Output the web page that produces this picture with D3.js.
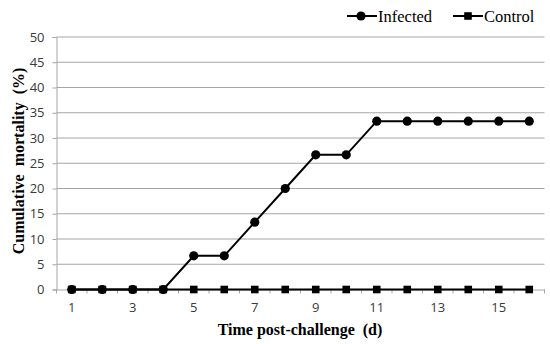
<!DOCTYPE html>
<html>
<head>
<meta charset="utf-8">
<script src="https://cdn.jsdelivr.net/npm/d3@7"></script>
<style>
  html, body { margin: 0; padding: 0; background: #fff; }
  svg { display: block; }
</style>
</head>
<body>
<svg id="chart" width="550" height="344"></svg>
<script>
// ---- data ----
const days = [1, 2, 3, 4, 5, 6, 7, 8, 9, 10, 11, 12, 13, 14, 15, 16];
const infected = [0, 0, 0, 0, 6.67, 6.67, 13.33, 20, 26.67, 26.67, 33.33, 33.33, 33.33, 33.33, 33.33, 33.33];
const control = [0, 0, 0, 0, 0, 0, 0, 0, 0, 0, 0, 0, 0, 0, 0, 0];
const xTickLabels = [1, 3, 5, 7, 9, 11, 13, 15];
const yTicks = [0, 5, 10, 15, 20, 25, 30, 35, 40, 45, 50];
const seriesNames = ["Infected", "Control"];
const xTitle = "Time post-challenge  (d)";
const yTitle = "Cumulative  mortality  (%)";

// ---- layout ----
const svg = d3.select("#chart");
const pLeft = 56.5, pRight = 544.5, pTop = 37, pBottom = 289.5;
const gridColor = "#a6a6a6";
const labelFont = "'Open Sans', 'Liberation Sans', sans-serif";
const titleFont = "'Liberation Serif', 'Times New Roman', serif";

const x = d3.scaleBand().domain(days).range([pLeft, pRight]).padding(0);
const bw = x.bandwidth();
const cx = d => x(d) + bw / 2;
const y = d3.scaleLinear().domain([0, 50]).range([pBottom, pTop]);

// gridlines
svg.append("g").selectAll("line").data(yTicks.filter(t => t > 0)).join("line")
  .attr("x1", pLeft).attr("x2", pRight)
  .attr("y1", d => y(d)).attr("y2", d => y(d))
  .attr("stroke", gridColor).attr("stroke-width", 1);

// y axis
const yAxis = svg.append("g").attr("transform", `translate(${pLeft},0)`)
  .call(d3.axisLeft(y).tickValues(yTicks).tickSize(4).tickPadding(8));
yAxis.select(".domain").attr("stroke", gridColor);
yAxis.selectAll(".tick line").attr("stroke", gridColor);
yAxis.selectAll(".tick text").attr("font-family", labelFont).attr("font-size", 13).attr("fill", "#3a3a3a");

// x axis
const xAxis = svg.append("g").attr("transform", `translate(0,${pBottom})`)
  .call(d3.axisBottom(x).tickSize(0).tickPadding(13)
    .tickFormat(d => xTickLabels.includes(d) ? d : ""));
xAxis.select(".domain").attr("stroke", gridColor);
xAxis.selectAll(".tick text").attr("font-family", labelFont).attr("font-size", 13).attr("fill", "#3a3a3a");
// tick marks at category boundaries
const bounds = days.map(d => x(d)).concat([x(days[days.length - 1]) + bw]);
svg.append("g").selectAll("line").data(bounds).join("line")
  .attr("x1", d => d).attr("x2", d => d)
  .attr("y1", pBottom).attr("y2", pBottom + 4)
  .attr("stroke", gridColor);

// lines
const line = d3.line().x((d, i) => cx(days[i])).y(d => y(d));
svg.append("path").datum(control).attr("d", line)
  .attr("fill", "none").attr("stroke", "#000").attr("stroke-width", 2);
svg.append("path").datum(infected).attr("d", line)
  .attr("fill", "none").attr("stroke", "#000").attr("stroke-width", 2);

// markers
svg.append("g").selectAll("rect").data(control).join("rect")
  .attr("x", (d, i) => cx(days[i]) - 3.8).attr("y", d => y(d) - 3.8)
  .attr("width", 7.6).attr("height", 7.6).attr("fill", "#000");
svg.append("g").selectAll("circle").data(infected).join("circle")
  .attr("cx", (d, i) => cx(days[i])).attr("cy", d => y(d))
  .attr("r", 4.6).attr("fill", "#000");

// axis titles
svg.append("text").attr("x", 300).attr("y", 335)
  .attr("text-anchor", "middle").attr("font-family", titleFont)
  .attr("font-weight", "bold").attr("font-size", 16)
  .style("white-space", "pre").text(xTitle);
svg.append("text").attr("transform", "translate(24,161) rotate(-90)")
  .attr("text-anchor", "middle").attr("font-family", titleFont)
  .attr("font-weight", "bold").attr("font-size", 16)
  .style("white-space", "pre").text(yTitle);

// legend
const legendItems = [
  { name: seriesNames[0], x0: 347, shape: "circle" },
  { name: seriesNames[1], x0: 453, shape: "square" }
];
const lg = svg.append("g");
legendItems.forEach(it => {
  const g = lg.append("g");
  g.append("line").attr("x1", it.x0).attr("x2", it.x0 + 30)
    .attr("y1", 16).attr("y2", 16).attr("stroke", "#000").attr("stroke-width", 2);
  if (it.shape === "circle") {
    g.append("circle").attr("cx", it.x0 + 14).attr("cy", 16).attr("r", 4.6).attr("fill", "#000");
  } else {
    g.append("rect").attr("x", it.x0 + 15 - 3.8).attr("y", 16 - 3.8)
      .attr("width", 7.6).attr("height", 7.6).attr("fill", "#000");
  }
  g.append("text").attr("x", it.x0 + 31).attr("y", 22)
    .attr("font-family", titleFont).attr("font-size", 16.5).attr("fill", "#000")
    .text(it.name);
});
</script>
</body>
</html>
